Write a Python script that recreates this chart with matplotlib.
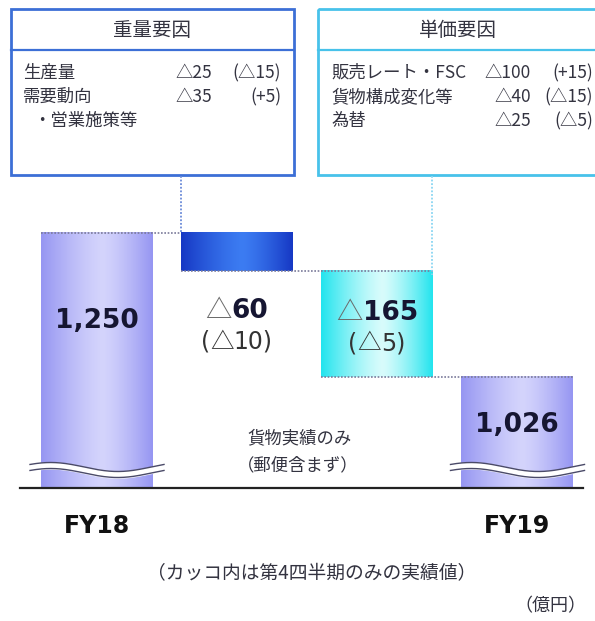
import numpy as np
import matplotlib
matplotlib.use("Agg")
import matplotlib.pyplot as plt
from matplotlib.patches import Rectangle
from matplotlib.colors import to_rgb
from matplotlib.transforms import offset_copy

plt.rcParams['font.family'] = ['DejaVu Sans', 'Noto Sans CJK JP']
JP = ['Noto Sans CJK JP', 'DejaVu Sans']

# ---- data ----
categories = ["FY18", "重量要因", "単価要因", "FY19"]
start_value = 1250
changes = [-60, -165]
end_value = 1026
bar_numbers = ["1,250", "60", "165", "1,026"]
bar_negative = [False, True, True, False]
sub_labels = ["", "10", "5", ""]
x_labels = ["FY18", "", "", "FY19"]

weight_title = "重量要因"
weight_items = ["生産量", "需要動向", "・営業施策等"]
weight_vals = ["△25", "△35", ""]
weight_q4 = ["(△15)", "(+5)", ""]

price_title = "単価要因"
price_items = ["販売レート・FSC", "貨物構成変化等", "為替"]
price_vals = ["△100", "△40", "△25"]
price_q4 = ["(+15)", "(△15)", "(△5)"]

W, H = 595, 621
fig = plt.figure(figsize=(W / 100, H / 100), dpi=100)

# bar axes (value units)
y_floor = 853
ax_bottom_px, ax_top_px = 488, 200
ax = fig.add_axes([0, (H - ax_bottom_px) / H, 1, (ax_bottom_px - ax_top_px) / H])
XL = (-0.693, 3.557)
YL = (y_floor, 1301)
ax.axis('off')

levels = [start_value]
for c in changes:
    levels.append(levels[-1] + c)
bottoms = [y_floor, levels[1], levels[2], y_floor]
tops = [start_value, levels[0], levels[1], end_value]
xs = np.arange(len(categories))
bw = 0.8

grad_cols = [
    ("#9696f2", "#d4d4fc"),
    ("#1638c4", "#3c7cf2"),
    ("#22e4ee", "#d8fcfc"),
    ("#9696f2", "#d4d4fc"),
]

for i in range(len(categories)):
    b, t = bottoms[i], tops[i]
    rect = Rectangle((xs[i] - bw / 2, b), bw, t - b, facecolor='none', edgecolor='none')
    ax.add_patch(rect)
    edge, center = (np.array(to_rgb(c)) for c in grad_cols[i])
    u = np.linspace(0, 1, 200)
    prof = np.abs((u - 0.55) / np.where(u < 0.55, 0.55, 0.45)) ** 1.3
    img = center[None, :] * (1 - prof[:, None]) + edge[None, :] * prof[:, None]
    ax.imshow(img[None, :, :], extent=[xs[i] - bw / 2, xs[i] + bw / 2, b, t],
              aspect='auto', clip_path=rect, zorder=1, interpolation='bilinear')

dot_kw = dict(color='#7a7a9a', lw=1.2, ls=(0, (1, 1)), zorder=2)
ax.plot([xs[0] - bw / 2, xs[1] - bw / 2], [tops[0]] * 2, **dot_kw)
ax.plot([xs[1] - bw / 2, xs[2] + bw / 2], [bottoms[1]] * 2, **dot_kw)
ax.plot([xs[2] - bw / 2, xs[3] + bw / 2], [bottoms[2]] * 2, **dot_kw)
ax.set_xlim(*XL)
ax.set_ylim(*YL)

# overlay axes in pixel coordinates
ov = fig.add_axes([0, 0, 1, 1], facecolor='none')
ov.set_xlim(0, W)
ov.set_ylim(H, 0)
ov.axis('off')


def box(x0, x1, y0, y1, ysep, col):
    ov.add_patch(Rectangle((x0, y0), x1 - x0, y1 - y0, fill=False, edgecolor=col, lw=2))
    ov.plot([x0, x1], [ysep, ysep], color=col, lw=1.6)


box(11, 294, 9, 175, 50, '#3c6fd6')
box(318, 602, 9, 175, 50, '#48c2ea')

txt = '#333340'
ov.text(152, 30, weight_title, ha='center', va='center', fontsize=14, color=txt, family=JP)
ov.text(458, 30, price_title, ha='center', va='center', fontsize=14, color=txt, family=JP)

bfs = 12.5
for k in range(3):
    y = 73 + 24 * k
    ov.text(23 if k < 2 else 33, y, weight_items[k], ha='left', va='center', fontsize=bfs, color=txt, family=JP)
    ov.text(212, y, weight_vals[k], ha='right', va='center', fontsize=bfs, color=txt, family=JP)
    ov.text(281, y, weight_q4[k], ha='right', va='center', fontsize=bfs, color=txt, family=JP)
    ov.text(331, y, price_items[k], ha='left', va='center', fontsize=bfs, color=txt, family=JP)
    ov.text(531, y, price_vals[k], ha='right', va='center', fontsize=bfs, color=txt, family=JP)
    ov.text(593, y, price_q4[k], ha='right', va='center', fontsize=bfs, color=txt, family=JP)

ov.plot([181, 181], [176, 233], color='#6a8ad8', lw=1.3, ls=(0, (1, 1)))
ov.plot([432, 432], [176, 275], color='#8ad6f2', lw=1.3, ls=(0, (1, 1)))

ov.plot([20, 583], [488, 488], color='#222222', lw=1.6)

for cx in (97, 517.5):
    xx = np.linspace(cx - 67, cx + 67, 200)
    yy = 470 - 4.5 * np.sin((xx - (cx - 67)) / 134 * 2 * np.pi + 0.6)
    ov.fill_between(xx, yy - 3, yy + 3, color='white', zorder=5)
    ov.plot(xx, yy - 3, color='#4a4a68', lw=1.0, zorder=6)
    ov.plot(xx, yy + 3, color='#4a4a68', lw=1.0, zorder=6)

renderer = fig.canvas.get_renderer()


def compose(x, y, parts):
    """Place text parts side by side, centred at (x, y) baseline in overlay coords."""
    objs, widths = [], []
    for s, kw in parts:
        t = ov.text(x, y, s, ha='left', va='baseline', **kw)
        objs.append(t)
        widths.append(t.get_window_extent(renderer).width)
    off = -sum(widths) / 2
    for t, w in zip(objs, widths):
        t.set_transform(offset_copy(ov.transData, fig=fig, x=off, y=0, units='dots'))
        off += w


num_col = '#161632'
big = dict(fontsize=19, fontweight='bold', color=num_col, family='DejaVu Sans')
tri_big = dict(fontsize=19, color='#6a6a6a', family='Noto Sans CJK JP')
sub = dict(fontsize=17, color='#333333', family='DejaVu Sans')
tri_sub = dict(fontsize=17, color='#333333', family='Noto Sans CJK JP')

num_baselines = [328, 318, 320, 432]
sub_baselines = [0, 349, 350, 0]
for i in range(len(categories)):
    px = 97 + 140 * xs[i]
    if bar_negative[i]:
        compose(px, num_baselines[i], [("△", tri_big), (bar_numbers[i], big)])
    else:
        compose(px, num_baselines[i], [(bar_numbers[i], big)])
    if sub_labels[i]:
        compose(px, sub_baselines[i], [("(", sub), ("△", tri_sub), (sub_labels[i] + ")", sub)])
    if x_labels[i]:
        ov.text(px, 526, x_labels[i], ha='center', va='center', fontsize=17,
                fontweight='bold', color='#111111')

ov.text(300, 438, "貨物実績のみ", ha='center', va='center', fontsize=12.5, color=txt, family=JP)
ov.text(298, 465, "（郵便含まず）", ha='center', va='center', fontsize=12.5, color=txt, family=JP)

ov.text(312, 574, "（カッコ内は第4四半期のみの実績値）", ha='center', va='center', fontsize=13.5, color=txt, family=JP)
ov.text(586, 606, "（億円）", ha='right', va='center', fontsize=13, color=txt, family=JP)

fig.savefig("out.png", dpi=100)
